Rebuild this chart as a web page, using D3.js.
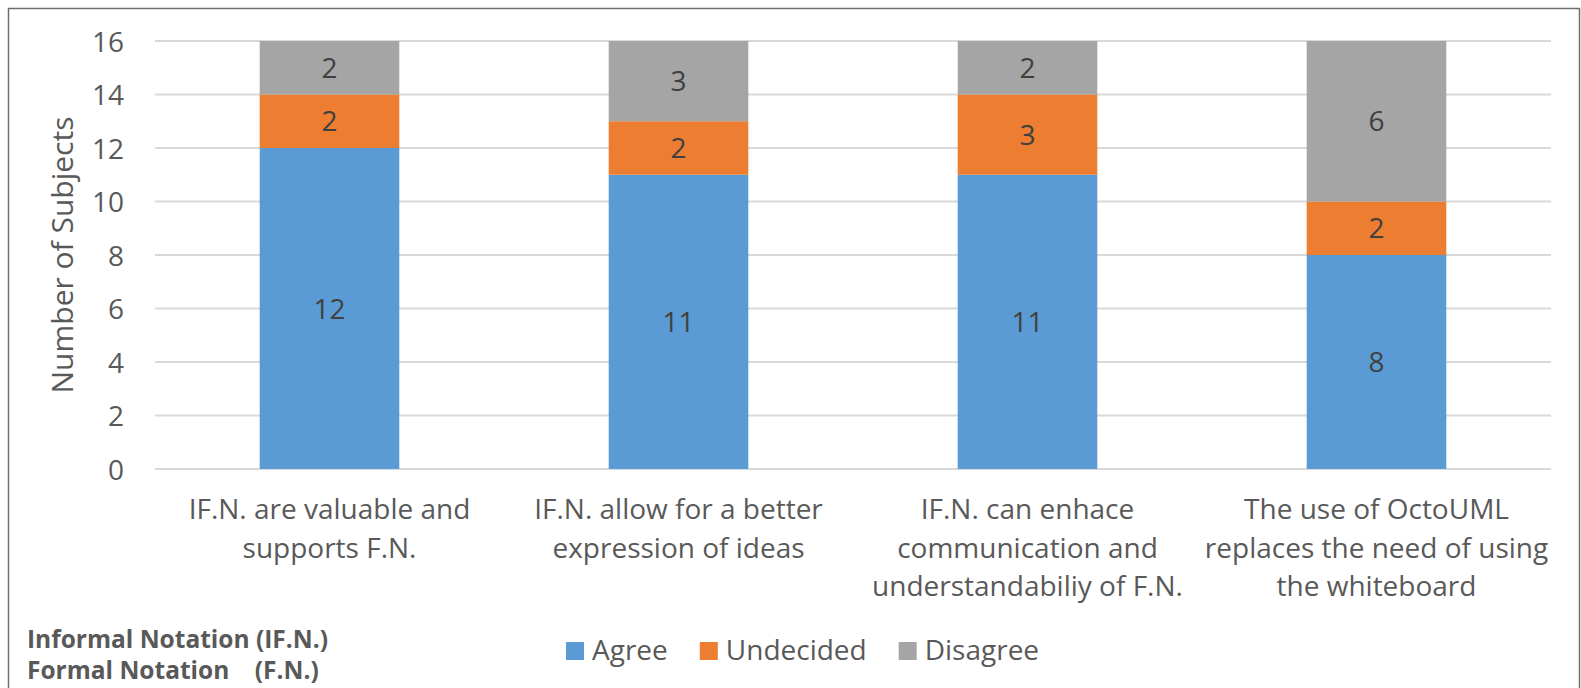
<!DOCTYPE html>
<html lang="en">
<head>
    <meta charset="UTF-8">
    <title>Stacked Bar - Informal Notation</title>
    <script src="https://d3js.org/d3.v7.min.js"></script>
    <style>
        body { margin: 0; background: #fff; }
        svg { display: block; font-family: "Open Sans", sans-serif; }
        .grid line { stroke: #d9d9d9; stroke-width: 2px; }
        .tick text { fill: #595959; font-size: 28px; font-family: "Open Sans", sans-serif; }
    </style>
</head>
<body>
    <svg width="1581" height="688"></svg>

    <script>
        // data
        const categories = [
            ["IF.N. are valuable and", "supports F.N."],
            ["IF.N. allow for a better", "expression of ideas"],
            ["IF.N. can enhace", "communication and", "understandabiliy of F.N."],
            ["The use of OctoUML", "replaces the need of using", "the whiteboard"]
        ];
        const seriesNames = ["Agree", "Undecided", "Disagree"];
        const agree = [12, 11, 11, 8];
        const undecided = [2, 2, 3, 2];
        const disagree = [2, 3, 2, 6];
        const yTicks = [0, 2, 4, 6, 8, 10, 12, 14, 16];
        const colors = ["#5b9bd5", "#ed7d31", "#a5a5a5"];
        const notes = ["Informal Notation (IF.N.)", "Formal Notation    (F.N.)"];

        const svg = d3.select("svg");

        // outer frame
        svg.append("rect")
            .attr("x", 8.5).attr("y", 8.5)
            .attr("width", 1571).attr("height", 700)
            .attr("fill", "none")
            .attr("stroke", "#6e6e6e")
            .attr("stroke-width", 1.5);

        const pLeft = 155, pRight = 1551, pTop = 41, pBottom = 469;

        const x = d3.scaleBand()
            .domain(d3.range(categories.length))
            .range([pLeft, pRight])
            .paddingInner(0.6)
            .paddingOuter(0.3);

        const y = d3.scaleLinear().domain([0, 16]).range([pBottom, pTop]);

        // gridlines
        svg.append("g").attr("class", "grid")
            .selectAll("line")
            .data(yTicks)
            .join("line")
            .attr("x1", pLeft).attr("x2", pRight)
            .attr("y1", d => y(d)).attr("y2", d => y(d));

        // y axis labels
        const yAxis = svg.append("g")
            .attr("transform", `translate(${pLeft}, 0)`)
            .call(d3.axisLeft(y).tickValues(yTicks).tickSize(0).tickPadding(31));
        yAxis.select(".domain").remove();
        yAxis.selectAll("text").attr("dy", "0.36em");

        svg.append("text")
            .attr("transform", `translate(73, ${(pTop + pBottom) / 2}) rotate(-90)`)
            .attr("text-anchor", "middle")
            .attr("fill", "#595959")
            .attr("font-size", 30)
            .text("Number of Subjects");

        // stacked bars
        const rows = categories.map((c, i) => ({ i, Agree: agree[i], Undecided: undecided[i], Disagree: disagree[i] }));
        const stacked = d3.stack().keys(seriesNames)(rows);

        const layer = svg.append("g")
            .selectAll("g")
            .data(stacked)
            .join("g")
            .attr("fill", (d, k) => colors[k]);

        layer.selectAll("rect")
            .data(d => d)
            .join("rect")
            .attr("x", d => x(d.data.i))
            .attr("width", x.bandwidth())
            .attr("y", d => y(d[1]))
            .attr("height", d => y(d[0]) - y(d[1]));

        layer.selectAll("text")
            .data(d => d.map(v => ({ v, key: d.key })))
            .join("text")
            .attr("x", d => x(d.v.data.i) + x.bandwidth() / 2)
            .attr("y", d => y((d.v[0] + d.v[1]) / 2))
            .attr("dy", "0.36em")
            .attr("text-anchor", "middle")
            .attr("fill", "#404040")
            .attr("font-size", 28)
            .text(d => d.v[1] - d.v[0]);

        // category labels
        const catG = svg.append("g")
            .selectAll("text")
            .data(categories)
            .join("text")
            .attr("x", (d, i) => x(i) + x.bandwidth() / 2)
            .attr("y", 519)
            .attr("text-anchor", "middle")
            .attr("fill", "#595959")
            .attr("font-size", 28);
        catG.selectAll("tspan")
            .data(d => d)
            .join("tspan")
            .attr("x", function () { return this.parentNode.getAttribute("x"); })
            .attr("dy", (d, j) => j === 0 ? 0 : 38.5)
            .text(d => d);

        // notes bottom left
        svg.append("g")
            .selectAll("text")
            .data(notes)
            .join("text")
            .attr("x", 27)
            .attr("y", (d, i) => 648 + i * 31)
            .attr("fill", "#595959")
            .attr("font-size", 24.5)
            .attr("font-weight", "bold")
            .style("white-space", "pre")
            .text(d => d);

        // legend
        const legend = svg.append("g");
        let lx = 566;
        seriesNames.forEach((name, k) => {
            legend.append("rect")
                .attr("x", lx).attr("y", 642)
                .attr("width", 18).attr("height", 18)
                .attr("fill", colors[k]);
            const t = legend.append("text")
                .attr("x", lx + 26).attr("y", 660)
                .attr("fill", "#595959")
                .attr("font-size", 28)
                .text(name);
            lx += 26 + t.node().getComputedTextLength() + 32;
        });
    </script>
</body>
</html>
